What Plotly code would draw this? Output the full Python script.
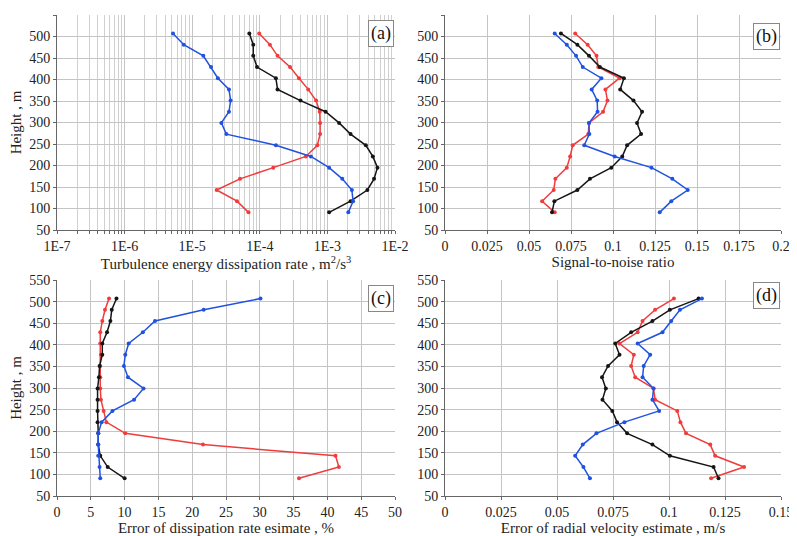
import plotly.graph_objects as go

heights = [91, 117, 143, 169, 195, 221, 247, 273, 299, 325, 351, 377, 403, 429, 455, 481, 507]

# (a) turbulence energy dissipation rate, m^2/s^3
a_red = [6.8e-5, 4.6e-5, 2.3e-5, 5.1e-5, 1.58e-4, 4.8e-4, 7.1e-4, 7.8e-4, 7.8e-4, 7.7e-4, 6.8e-4, 5.2e-4, 3.8e-4, 2.8e-4, 1.83e-4, 1.41e-4, 9.8e-5]
a_black = [1.06e-3, 2.2e-3, 3.9e-3, 4.9e-3, 5.5e-3, 4.7e-3, 3.7e-3, 2.2e-3, 1.49e-3, 9.4e-4, 4.0e-4, 1.83e-4, 1.73e-4, 9.1e-5, 8.0e-5, 8.0e-5, 7.0e-5]
a_blue = [2.04e-3, 2.4e-3, 2.3e-3, 1.66e-3, 1.06e-3, 5.7e-4, 1.73e-4, 3.2e-5, 2.7e-5, 3.5e-5, 3.7e-5, 3.5e-5, 2.4e-5, 1.9e-5, 1.46e-5, 7.5e-6, 5.2e-6]

# (b) signal-to-noise ratio
b_red = [0.0653, 0.0578, 0.0647, 0.0657, 0.0725, 0.0745, 0.076, 0.0853, 0.0857, 0.0941, 0.0967, 0.0955, 0.1039, 0.0912, 0.0902, 0.0849, 0.0775]
b_black = [0.0637, 0.0651, 0.0788, 0.0863, 0.099, 0.1055, 0.1084, 0.1167, 0.1143, 0.1173, 0.1122, 0.1043, 0.1065, 0.0922, 0.0857, 0.0788, 0.069]
b_blue = [0.1278, 0.1347, 0.1445, 0.1353, 0.1229, 0.101, 0.0829, 0.0859, 0.0857, 0.0908, 0.0906, 0.0873, 0.0931, 0.082, 0.078, 0.0725, 0.0653]

# (c) error of dissipation rate estimate, %
c_red = [35.8, 41.7, 41.2, 21.6, 10.1, 7.3, 6.9, 6.5, 6.4, 6.4, 6.4, 6.5, 6.4, 6.4, 6.7, 7.1, 7.7]
c_black = [10.0, 7.5, 6.4, 6.1, 6.1, 6.0, 6.0, 6.0, 6.0, 6.2, 6.3, 6.7, 6.7, 7.4, 7.9, 8.1, 8.8]
c_blue = [6.4, 6.3, 6.1, 6.1, 6.1, 6.6, 8.2, 11.4, 12.8, 10.5, 9.9, 10.1, 10.6, 12.7, 14.5, 21.7, 30.1]

# (d) error of radial velocity estimate, m/s
d_red = [0.1188, 0.1335, 0.1206, 0.1184, 0.1076, 0.1051, 0.1037, 0.0938, 0.0931, 0.0849, 0.0831, 0.0843, 0.0779, 0.086, 0.0882, 0.0938, 0.1022]
d_black = [0.1221, 0.1199, 0.1004, 0.0926, 0.0813, 0.0768, 0.0747, 0.0703, 0.0718, 0.0701, 0.0728, 0.0779, 0.076, 0.0831, 0.0926, 0.1004, 0.1132]
d_blue = [0.0647, 0.0618, 0.0581, 0.0615, 0.0676, 0.0801, 0.0956, 0.0926, 0.0931, 0.0882, 0.0887, 0.0916, 0.086, 0.0971, 0.101, 0.1049, 0.1147]

a_ticks = [1e-7, 1e-6, 1e-5, 1e-4, 1e-3, 1e-2]
a_ticktext = ["1E-7", "1E-6", "1E-5", "1E-4", "1E-3", "1E-2"]
b_ticks = [0, 0.025, 0.05, 0.075, 0.1, 0.125, 0.15, 0.175, 0.2]
b_ticktext = ["0", "0.025", "0.05", "0.075", "0.1", "0.125", "0.15", "0.175", "0.2"]
c_ticks = [0, 5, 10, 15, 20, 25, 30, 35, 40, 45, 50]
d_ticks = [0, 0.025, 0.05, 0.075, 0.1, 0.125, 0.15]
d_ticktext = ["0", "0.025", "0.05", "0.075", "0.1", "0.125", "0.15"]
y_ticks = [50, 100, 150, 200, 250, 300, 350, 400, 450, 500, 550]

RED = "#f03c3c"
BLACK = "#151515"
BLUE = "#2052e0"
FONT = "Liberation Serif, Times New Roman, serif"
OFF = 8  # page body margin offset in the browser
W, H = 797, 536

fig = go.Figure()

panels = [
    ("x", "y", [a_red, a_black, a_blue]),
    ("x2", "y2", [b_red, b_black, b_blue]),
    ("x3", "y3", [c_red, c_black, c_blue]),
    ("x4", "y4", [d_red, d_black, d_blue]),
]
for xa, ya, series in panels:
    for vals, col in zip(series, [RED, BLACK, BLUE]):
        fig.add_trace(go.Scatter(
            x=vals, y=heights, xaxis=xa, yaxis=ya, mode="lines+markers",
            line=dict(color=col, width=1.5), marker=dict(color=col, size=4),
            showlegend=False, hoverinfo="skip"))

def xdom(l, r):
    return [(l - OFF) / W, (r - OFF) / W]

def ydom(t, b):
    return [1 - (b - OFF) / H, 1 - (t - OFF) / H]

top_y = ydom(15, 230)
bot_y = ydom(280, 496)
left_x = xdom(57, 395)
right_x = xdom(445, 781)

GRID = "#c4c4c4"
AXIS = "#666666"
tickfont = dict(family=FONT, size=14, color="#222")
titlefont = dict(family=FONT, size=15, color="#222")

common_x = dict(showline=True, linecolor=AXIS, linewidth=1, ticks="outside", ticklen=3,
                tickcolor=AXIS, gridcolor=GRID, gridwidth=1, zeroline=False, automargin=False,
                tickfont=tickfont, title_font=titlefont, title_standoff=0)
common_y = dict(showline=True, linecolor=AXIS, linewidth=1, ticks="outside", ticklen=3,
                tickcolor=AXIS, gridcolor=GRID, gridwidth=1, zeroline=False, automargin=False,
                tickfont=tickfont, title_font=titlefont, range=[50, 550],
                tickvals=y_ticks, ticktext=[str(v) for v in y_ticks], title_standoff=5)

fig.update_layout(
    width=W, height=H, margin=dict(l=0, r=0, t=0, b=0),
    paper_bgcolor="white", plot_bgcolor="white",
    font=dict(family=FONT, size=14, color="#222"),
    xaxis=dict(common_x, domain=left_x, anchor="y", type="log", range=[-7, -2],
               tickvals=a_ticks, ticktext=a_ticktext,
               minor=dict(showgrid=True, gridcolor="#d0d0d0", gridwidth=1, dtick="D1",
                          ticks="outside", ticklen=3, tickcolor=AXIS),
               title_text="Turbulence energy dissipation rate , m<sup>2</sup>/s<sup>3</sup>"),
    yaxis=dict(common_y, domain=top_y, anchor="x", title_text="Height , m"),
    xaxis2=dict(common_x, domain=right_x, anchor="y2", range=[0, 0.2],
                tickvals=b_ticks, ticktext=b_ticktext, title_text="Signal-to-noise ratio"),
    yaxis2=dict(common_y, domain=top_y, anchor="x2"),
    xaxis3=dict(common_x, domain=left_x, anchor="y3", range=[0, 50],
                tickvals=c_ticks, ticktext=[str(v) for v in c_ticks],
                title_text="Error of dissipation rate esimate , %"),
    yaxis3=dict(common_y, domain=bot_y, anchor="x3", title_text="Height , m"),
    xaxis4=dict(common_x, domain=right_x, anchor="y4", range=[0, 0.15],
                tickvals=d_ticks, ticktext=d_ticktext,
                title_text="Error of radial velocity estimate , m/s"),
    yaxis4=dict(common_y, domain=bot_y, anchor="x4"),
)

labels = [("(a)", left_x[1], top_y[1] - 5 / H), ("(b)", right_x[1], top_y[1] - 8 / H),
          ("(c)", left_x[1], bot_y[1] - 5 / H), ("(d)", right_x[1], bot_y[1] - 2 / H)]
for txt, x, y in labels:
    fig.add_annotation(text=txt, xref="paper", yref="paper", x=x - 1 / W, y=y,
                       xanchor="right", yanchor="top", showarrow=False,
                       font=dict(family=FONT, size=18, color="#111"),
                       bgcolor="white", bordercolor="#888", borderwidth=1, borderpad=2)

fig.write_html("out.html")
